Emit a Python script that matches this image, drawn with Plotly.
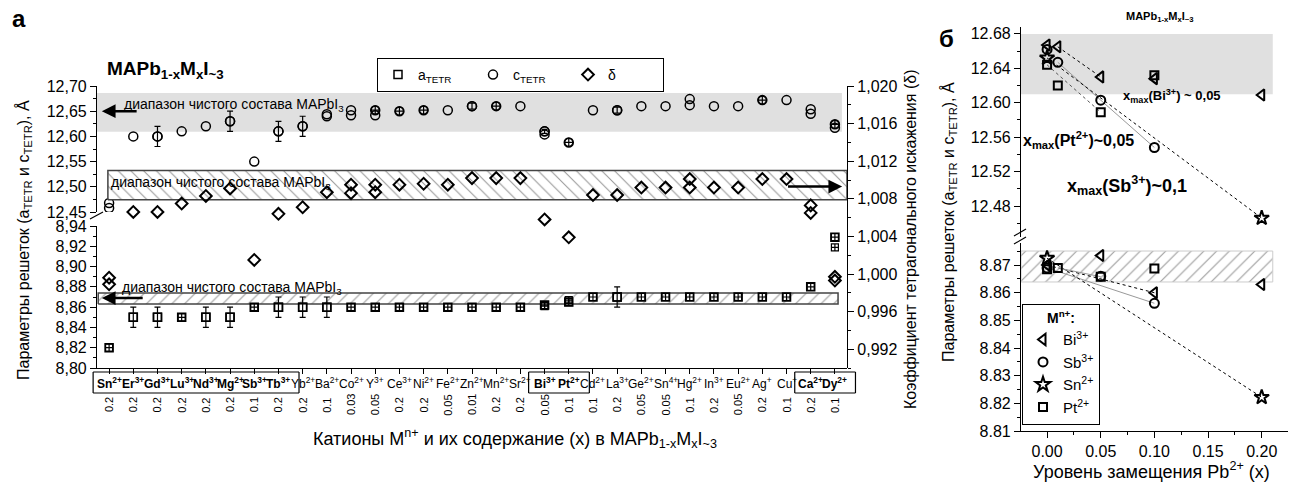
import plotly.graph_objects as go

W, H = 1296, 491
FONT = "Liberation Sans, Arial, sans-serif"

# ---------------- DATA : panel a ----------------
cation_symbols = ["Sn", "Er", "Gd", "Lu", "Nd", "Mg", "Sb", "Tb", "Yb", "Ba", "Co", "Y", "Ce", "Ni", "Fe",
                  "Zn", "Mn", "Sr", "Bi", "Pt", "Cd", "La", "Ge", "Sn", "Hg", "In", "Eu", "Ag", "Cu", "Ca", "Dy"]
cation_charges = ["2+", "3+", "3+", "3+", "3+", "2+", "3+", "3+", "2+", "2+", "2+", "3+", "3+", "2+", "2+",
                  "2+", "2+", "2+", "3+", "2+", "2+", "3+", "2+", "4+", "2+", "3+", "2+", "+", "+", "2+", "2+"]
content_x = ["0.2", "0.2", "0.2", "0.2", "0.2", "0.2", "0.1", "0.2", "0.2", "0.1", "0.03", "0.05", "0.2", "0.2",
             "0.05", "0.01", "0.2", "0.2", "0.05", "0.1", "0.1", "0.2", "0.05", "0.05", "0.1", "0.2", "0.05",
             "0.2", "0.1", "0.2", "0.1"]
bold_groups = [(0, 7), (18, 19), (29, 30)]

c_tetr = [12.468, 12.60, 12.60, 12.61, 12.62, 12.63, 12.55, 12.61, 12.62, 12.644, 12.652, 12.652, 12.650,
          12.652, 12.652, 12.660, 12.660, 12.660, 12.610, 12.588, 12.652, 12.652, 12.660, 12.660, 12.674,
          12.660, 12.660, 12.672, 12.672, 12.654, 12.624]
c_tetr_2 = [12.458, None, None, None, None, None, None, None, None, 12.640, 12.642, 12.642, None, None, None,
            None, None, None, 12.604, None, None, None, None, None, 12.662, None, None, None, None, 12.645, 12.617]
c_err = [0, 0, 0.02, 0, 0, 0.02, 0, 0.02, 0.02, 0, 0, 0, 0, 0, 0, 0.006, 0, 0, 0.004, 0, 0, 0.006, 0, 0,
         0, 0, 0, 0, 0, 0, 0]
c_crossed = [11, 12, 13, 16, 19, 27, 30]

a_tetr = [8.820, 8.850, 8.850, 8.850, 8.850, 8.850, 8.860, 8.860, 8.860, 8.860, 8.860, 8.860, 8.860, 8.860,
          8.860, 8.860, 8.860, 8.860, 8.862, 8.865, 8.870, 8.870, 8.870, 8.870, 8.870, 8.870, 8.870, 8.870,
          8.870, 8.880, 8.929]
a_tetr_2 = [None] * 18 + [8.861, 8.867] + [None] * 10 + [8.919]
a_err = [0, 0.01, 0.01, 0, 0.01, 0.01, 0, 0.01, 0.01, 0.01, 0, 0, 0, 0, 0, 0, 0, 0, 0, 0, 0, 0.01, 0, 0,
         0, 0, 0, 0, 0, 0, 0]

delta = [0.9996, 1.0066, 1.0066, 1.0075, 1.0083, 1.0091, 1.0015, 1.0064, 1.0071, 1.0087, 1.0095, 1.0095,
         1.0095, 1.0096, 1.0095, 1.0102, 1.0102, 1.0102, 1.0058, 1.0039, 1.0084, 1.0084, 1.0092, 1.0092,
         1.0101, 1.0092, 1.0092, 1.0101, 1.0101, 1.0073, 0.9997]
delta_2 = [0.9989, None, None, None, None, None, None, None, None, None, 1.0086, 1.0087, None, None, None,
           None, None, None, None, None, None, None, None, None, 1.0092, None, None, None, None, 1.0065, 0.9993]

pure_c_range = [12.609, 12.686]
pure_delta_range = [1.0079, 1.0110]
pure_a_range = [8.863, 8.874]

# ---------------- DATA : panel б ----------------
levels = [0.0, 0.01, 0.05, 0.10, 0.20]
series_names = ["Bi", "Sb", "Sn", "Pt"]
series_charges = ["3+", "3+", "2+", "2+"]
bi_c = [12.667, 12.665, 12.630, 12.628, 12.609]
bi_a = [8.8700, None, 8.8735, 8.8600, 8.8630]
sb_c = [12.662, 12.647, 12.603, 12.548, None]
sb_a = [8.8690, None, 8.8660, 8.8562, None]
sn_c = [12.652, None, None, None, 12.466]
sn_a = [8.8725, None, None, None, 8.8222]
pt_c = [12.644, 12.620, 12.589, 12.632, None]
pt_a = [8.8685, 8.8690, 8.8658, 8.8688, None]
pure_c_range_b = [12.610, 12.680]
pure_a_range_b = [8.8639, 8.8751]


def px(v):
    return v / W


def py(v):
    return 1 - v / H


fig = go.Figure()
n = len(cation_symbols)
idx = list(range(n))
BLACK = "black"


def rect_xy(xr, yr):
    return [xr[0], xr[1], xr[1], xr[0], xr[0]], [yr[0], yr[0], yr[1], yr[1], yr[0]]


# hatched bands (pattern fills)
bx, by = rect_xy([-0.05, 30.5], pure_delta_range)
fig.add_trace(go.Scatter(x=bx, y=by, xaxis="x", yaxis="y3", mode="lines", fill="toself",
                         fillcolor="white", line=dict(color="#444", width=1.5),
                         fillpattern=dict(shape="\\", size=9, solidity=0.12, fgcolor="#333", bgcolor="white"),
                         showlegend=False, hoverinfo="skip"))
bx, by = rect_xy([-0.45, 30.13], pure_a_range)
fig.add_trace(go.Scatter(x=bx, y=by, xaxis="x", yaxis="y", mode="lines", fill="toself",
                         fillcolor="white", line=dict(color="#444", width=1.5),
                         fillpattern=dict(shape="/", size=9, solidity=0.12, fgcolor="#333", bgcolor="white"),
                         showlegend=False, hoverinfo="skip"))
bx, by = rect_xy([-0.0243, 0.2103], pure_a_range_b)
fig.add_trace(go.Scatter(x=bx, y=by, xaxis="x4", yaxis="y4", mode="lines", fill="toself",
                         fillcolor="white", line=dict(color="#ccc", width=1),
                         fillpattern=dict(shape="/", size=9, solidity=0.12, fgcolor="#333", bgcolor="white"),
                         showlegend=False, hoverinfo="skip"))

mk_line = dict(color=BLACK, width=1.5)
SQ, CI, DI = 8, 9, 9

# ---- panel a: a_TETR ----
fig.add_trace(go.Scatter(x=idx, y=a_tetr, xaxis="x", yaxis="y", mode="markers", name="a<sub>TETR</sub>",
                         legend="legend",
                         marker=dict(symbol="square-open", size=SQ, color=BLACK, line=mk_line)))
err_i = [i for i in idx if a_err[i] > 0]
fig.add_trace(go.Scatter(x=err_i, y=[a_tetr[i] for i in err_i], xaxis="x", yaxis="y", mode="markers",
                         showlegend=False,
                         error_y=dict(type="data", array=[a_err[i] for i in err_i], color=BLACK, thickness=1.2, width=3),
                         marker=dict(symbol="square-open", size=SQ, color=BLACK, line=mk_line)))
cross_i = [i for i in idx if a_err[i] == 0]
fig.add_trace(go.Scatter(x=cross_i, y=[a_tetr[i] for i in cross_i], xaxis="x", yaxis="y", mode="markers",
                         showlegend=False,
                         marker=dict(symbol="square-cross-open", size=SQ - 1, color=BLACK,
                                     line=dict(color=BLACK, width=1.2))))
sec_i = [i for i in idx if a_tetr_2[i] is not None]
fig.add_trace(go.Scatter(x=sec_i, y=[a_tetr_2[i] for i in sec_i], xaxis="x", yaxis="y", mode="markers",
                         showlegend=False,
                         marker=dict(symbol="square-cross-open", size=SQ - 1, color=BLACK,
                                     line=dict(color=BLACK, width=1.2))))

# ---- panel a: c_TETR ----
fig.add_trace(go.Scatter(x=idx, y=c_tetr, xaxis="x", yaxis="y2", mode="markers", name="c<sub>TETR</sub>",
                         legend="legend",
                         marker=dict(symbol="circle-open", size=CI, color=BLACK, line=mk_line)))
err_i = [i for i in idx if c_err[i] > 0]
fig.add_trace(go.Scatter(x=err_i, y=[c_tetr[i] for i in err_i], xaxis="x", yaxis="y2", mode="markers",
                         showlegend=False,
                         error_y=dict(type="data", array=[c_err[i] for i in err_i], color=BLACK, thickness=1.2, width=3),
                         marker=dict(symbol="circle-open", size=CI, color=BLACK, line=mk_line)))
fig.add_trace(go.Scatter(x=c_crossed, y=[c_tetr[i] for i in c_crossed], xaxis="x", yaxis="y2", mode="markers",
                         showlegend=False,
                         marker=dict(symbol="circle-cross-open", size=CI - 1, color=BLACK,
                                     line=dict(color=BLACK, width=1.2))))
sec_i = [i for i in idx if c_tetr_2[i] is not None]
fig.add_trace(go.Scatter(x=sec_i, y=[c_tetr_2[i] for i in sec_i], xaxis="x", yaxis="y2", mode="markers",
                         showlegend=False,
                         marker=dict(symbol="circle-open", size=CI, color=BLACK, line=mk_line)))

# ---- panel a: delta ----
fig.add_trace(go.Scatter(x=idx, y=delta, xaxis="x", yaxis="y3", mode="markers", name="δ",
                         legend="legend",
                         marker=dict(symbol="diamond-open", size=DI, color=BLACK, line=dict(color=BLACK, width=2))))
sec_i = [i for i in idx if delta_2[i] is not None]
fig.add_trace(go.Scatter(x=sec_i, y=[delta_2[i] for i in sec_i], xaxis="x", yaxis="y3", mode="markers",
                         showlegend=False,
                         marker=dict(symbol="diamond-open", size=DI, color=BLACK, line=dict(color=BLACK, width=2))))

# ---- panel б ----
series_c = [bi_c, sb_c, sn_c, pt_c]
series_a = [bi_a, sb_a, sn_a, pt_a]
series_symbols = ["triangle-left-open", "circle-open", "star-open", "square-open"]
series_sizes = [10, 9, 11, 8]
trend_c = [(1, 2, "dot", BLACK), (1, 3, "solid", "#999"), (0, 4, "dot", BLACK), (0, 2, "dot", "#555")]
trend_a = [(0, 3, "dot", BLACK), (0, 3, "solid", "#999"), (0, 4, "dot", BLACK), (1, 2, "solid", "#999")]

for k in range(4):
    for vals, ax_y, trend in ((series_c[k], "y5", trend_c[k]), (series_a[k], "y4", trend_a[k])):
        i0, i1, dash, col = trend
        fig.add_trace(go.Scatter(x=[levels[i0], levels[i1]], y=[vals[i0], vals[i1]], xaxis="x4", yaxis=ax_y,
                                 mode="lines", line=dict(color=col, width=1, dash=dash),
                                 showlegend=False, hoverinfo="skip"))
for k in range(4):
    for vals, ax_y, show in ((series_c[k], "y5", True), (series_a[k], "y4", False)):
        pts = [j for j in range(len(levels)) if vals[j] is not None]
        fig.add_trace(go.Scatter(x=[levels[j] for j in pts], y=[vals[j] for j in pts], xaxis="x4", yaxis=ax_y,
                                 mode="markers", legend="legend2", showlegend=show,
                                 name=f"{series_names[k]}<sup>{series_charges[k]}</sup>",
                                 marker=dict(symbol=series_symbols[k], size=series_sizes[k], color=BLACK,
                                             line=dict(color=BLACK, width=2))))

# ---------------- axes ----------------
def comma(v, d):
    return f"{v:.{d}f}".replace(".", ",")


up_ticks = [round(12.45 + 0.05 * i, 2) for i in range(6)]
up_minor = [round(12.475 + 0.05 * i, 3) for i in range(5)]
lo_ticks = [round(8.80 + 0.02 * i, 2) for i in range(8)]
lo_minor = [round(8.81 + 0.02 * i, 2) for i in range(7)]
d_ticks = [round(0.992 + 0.004 * i, 3) for i in range(8)]
d_minor = [round(0.990 + 0.004 * i, 3) for i in range(8)]

axis_common = dict(showgrid=False, zeroline=False, showline=True, linecolor=BLACK, linewidth=1.2,
                   tickcolor=BLACK, tickfont=dict(size=16, family=FONT), automargin=False)

X_RANGE = [-0.5, 30.5]
X_DOM = [px(97), px(847)]

fig.update_layout(
    width=W, height=H, autosize=False, margin=dict(l=0, r=0, t=0, b=0, pad=0),
    paper_bgcolor="white", plot_bgcolor="rgba(0,0,0,0)",
    font=dict(family=FONT, size=14, color=BLACK),
    xaxis=dict(domain=X_DOM, range=X_RANGE, anchor="y", tickvals=idx, showticklabels=False,
               ticks="outside", ticklen=5, **axis_common),
    xaxis2=dict(overlaying="x", anchor="y3", side="top", range=X_RANGE, tickvals=idx, showticklabels=False,
                ticks="inside", ticklen=4, **axis_common),
    yaxis=dict(domain=[py(368), py(226)], range=[8.80, 8.94], anchor="x", tickvals=lo_ticks,
               ticktext=[comma(v, 2) for v in lo_ticks], ticks="outside", ticklen=6,
               minor=dict(tickvals=lo_minor, ticks="outside", ticklen=3, tickcolor=BLACK), **axis_common),
    yaxis2=dict(domain=[py(212), py(86)], range=[12.45, 12.70], anchor="x", tickvals=up_ticks,
                ticktext=[comma(v, 2) for v in up_ticks], ticks="outside", ticklen=6,
                minor=dict(tickvals=up_minor, ticks="outside", ticklen=3, tickcolor=BLACK), **axis_common),
    yaxis3=dict(domain=[py(368), py(86)], range=[0.990, 1.020], anchor="x", side="right", tickvals=d_ticks,
                ticktext=[comma(v, 3) for v in d_ticks], ticks="outside", ticklen=6,
                minor=dict(tickvals=d_minor, ticks="outside", ticklen=3, tickcolor=BLACK), **axis_common),
    xaxis4=dict(domain=[px(1021), px(1288)], range=[-0.0243, 0.2245], anchor="y4", dtick=0.05, tick0=0,
                tickformat=".2f", ticks="outside", ticklen=6,
                minor=dict(dtick=0.025, ticks="outside", ticklen=3, tickcolor=BLACK), **axis_common),
    yaxis4=dict(domain=[py(431), py(243)], range=[8.81, 8.878], anchor="x4", dtick=0.01, tick0=8.81,
                tickformat=".2f", ticks="outside", ticklen=6,
                minor=dict(dtick=0.005, ticks="outside", ticklen=3, tickcolor=BLACK), **axis_common),
    yaxis5=dict(domain=[py(237), py(27)], range=[12.444, 12.688], anchor="x4", dtick=0.04, tick0=12.48,
                tickformat=".2f", ticks="outside", ticklen=6,
                minor=dict(dtick=0.02, ticks="outside", ticklen=3, tickcolor=BLACK), **axis_common),
    legend=dict(orientation="h", x=px(377), y=py(58), xanchor="left", yanchor="top", bgcolor="white",
                bordercolor=BLACK, borderwidth=1, font=dict(size=14), entrywidth=50, itemwidth=30,
                tracegroupgap=0),
    legend2=dict(x=px(1022), y=py(304), xanchor="left", yanchor="top", bgcolor="white",
                 bordercolor=BLACK, borderwidth=1, font=dict(size=15), itemwidth=30, tracegroupgap=0,
                 title=dict(text="<b>M<sup>n+</sup>:</b>", side="top center", font=dict(size=14))),
)

# gray bands
fig.add_shape(type="rect", xref="x", yref="y2", x0=-0.5, x1=30.29, y0=pure_c_range[0], y1=pure_c_range[1],
              fillcolor="#e0e0e0", line=dict(width=0), layer="below")
fig.add_shape(type="rect", xref="x4", yref="y5", x0=-0.0243, x1=0.2103, y0=pure_c_range_b[0],
              y1=pure_c_range_b[1], fillcolor="#e0e0e0", line=dict(width=0), layer="below")

# axis break marks
for (x0, y0, x1, y1) in [(90, 219, 103, 212), (1014, 236, 1026, 229), (1014, 244, 1026, 237)]:
    fig.add_shape(type="line", xref="paper", yref="paper", x0=px(x0), y0=py(y0), x1=px(x1), y1=py(y1),
                  line=dict(color=BLACK, width=1.2))


# boxes around bold cation groups (paper coords derived from the category axis, not clipped)
def cat_to_paper(v):
    return X_DOM[0] + (v - X_RANGE[0]) / (X_RANGE[1] - X_RANGE[0]) * (X_DOM[1] - X_DOM[0])


for g0, g1 in bold_groups:
    xa, xb = cat_to_paper(g0 - 0.66), cat_to_paper(g1 + 0.85)
    ya, yb = py(393), py(372)
    for (sx0, sy0, sx1, sy1) in [(xa, ya, xb, ya), (xa, yb, xb, yb), (xa, ya, xa, yb), (xb, ya, xb, yb)]:
        fig.add_shape(type="line", xref="paper", yref="paper", x0=sx0, y0=sy0, x1=sx1, y1=sy1,
                      line=dict(color=BLACK, width=1.2))

ann = []
bold_idx = set()
for g0, g1 in bold_groups:
    bold_idx.update(range(g0, g1 + 1))
for i in idx:
    t = f"{cation_symbols[i]}<sup>{cation_charges[i]}</sup>"
    if i in bold_idx:
        t = f"<b>{t}</b>"
    ann.append(dict(x=i, y=py(383), xref="x", yref="paper", text=t, showarrow=False, borderwidth=0,
                    bgcolor="rgba(0,0,0,0)", xanchor="center", yanchor="middle", font=dict(size=12)))
    ann.append(dict(x=i, y=py(405), xref="x", yref="paper", text=content_x[i], showarrow=False, borderwidth=0,
                    bgcolor="rgba(0,0,0,0)", textangle=-90, xanchor="center", yanchor="middle",
                    font=dict(size=11)))

range_txt = "диапазон чистого состава MAPbI<sub>3</sub>"
ann += [
    dict(x=px(10), y=py(18), xref="paper", yref="paper", text="<b>а</b>", showarrow=False,
         xanchor="left", yanchor="middle", font=dict(size=24)),
    dict(x=px(937), y=py(38), xref="paper", yref="paper", text="<b>б</b>", showarrow=False,
         xanchor="left", yanchor="middle", font=dict(size=24)),
    dict(x=px(105), y=py(70), xref="paper", yref="paper",
         text="<b>MAPb<sub>1-x</sub>M<sub>x</sub>I<sub>~3</sub></b>", showarrow=False,
         xanchor="left", yanchor="middle", font=dict(size=19)),
    dict(x=px(1160), y=py(17), xref="paper", yref="paper",
         text="<b>MAPb<sub>1-x</sub>M<sub>x</sub>I<sub>~3</sub></b>", showarrow=False,
         xanchor="center", yanchor="middle", font=dict(size=11)),
    dict(x=px(122), y=py(105), xref="paper", yref="paper", text=range_txt, showarrow=False,
         xanchor="left", yanchor="middle", font=dict(size=14)),
    dict(x=px(109), y=py(183), xref="paper", yref="paper", text=range_txt, showarrow=False,
         xanchor="left", yanchor="middle", font=dict(size=14)),
    dict(x=px(120), y=py(288), xref="paper", yref="paper", text=range_txt, showarrow=False,
         xanchor="left", yanchor="middle", font=dict(size=14)),
    # arrows
    dict(x=-0.3, y=12.65, xref="x", yref="y2", ax=1.2, ay=12.65, axref="x", ayref="y2", text="",
         showarrow=True, arrowhead=2, arrowsize=1.1, arrowwidth=2.5, arrowcolor=BLACK),
    dict(x=30.3, y=1.0093, xref="x", yref="y3", ax=28.0, ay=1.0093, axref="x", ayref="y3", text="",
         showarrow=True, arrowhead=2, arrowsize=1.1, arrowwidth=2.5, arrowcolor=BLACK),
    dict(x=-0.3, y=8.869, xref="x", yref="y", ax=1.45, ay=8.869, axref="x", ayref="y", text="",
         showarrow=True, arrowhead=2, arrowsize=1.1, arrowwidth=2.5, arrowcolor=BLACK),
    # axis titles
    dict(x=px(24), y=py(240), xref="paper", yref="paper",
         text="Параметры решеток (a<sub>TETR</sub> и c<sub>TETR</sub>), Å", showarrow=False, textangle=-90,
         xanchor="center", yanchor="middle", font=dict(size=16)),
    dict(x=px(910), y=py(240), xref="paper", yref="paper",
         text="Коэффициент тетрагонального искажения (δ)", showarrow=False, textangle=-90,
         xanchor="center", yanchor="middle", font=dict(size=16)),
    dict(x=px(949), y=py(222), xref="paper", yref="paper",
         text="Параметры решеток (a<sub>TETR</sub> и c<sub>TETR</sub>), Å", showarrow=False, textangle=-90,
         xanchor="center", yanchor="middle", font=dict(size=16)),
    dict(x=px(515), y=py(438), xref="paper", yref="paper",
         text="Катионы M<sup>n+</sup> и их содержание (x) в MAPb<sub>1-x</sub>M<sub>x</sub>I<sub>~3</sub>",
         showarrow=False, xanchor="center", yanchor="middle", font=dict(size=18)),
    dict(x=px(1151), y=py(470), xref="paper", yref="paper",
         text="Уровень замещения Pb<sup>2+</sup> (x)", showarrow=False,
         xanchor="center", yanchor="middle", font=dict(size=18)),
    # x_max labels
    dict(x=px(1121), y=py(96), xref="paper", yref="paper",
         text="<b>x<sub>max</sub>(Bi<sup>3+</sup>) ~ 0,05</b>", showarrow=False,
         xanchor="left", yanchor="middle", font=dict(size=13)),
    dict(x=px(1021), y=py(140), xref="paper", yref="paper",
         text="<b>x<sub>max</sub>(Pt<sup>2+</sup>)~0,05</b>", showarrow=False,
         xanchor="left", yanchor="middle", font=dict(size=16)),
    dict(x=px(1065), y=py(185), xref="paper", yref="paper",
         text="<b>x<sub>max</sub>(Sb<sup>3+</sup>)~0,1</b>", showarrow=False,
         xanchor="left", yanchor="middle", font=dict(size=18)),
]
fig.update_layout(annotations=ann)

fig.write_html("out.html")
